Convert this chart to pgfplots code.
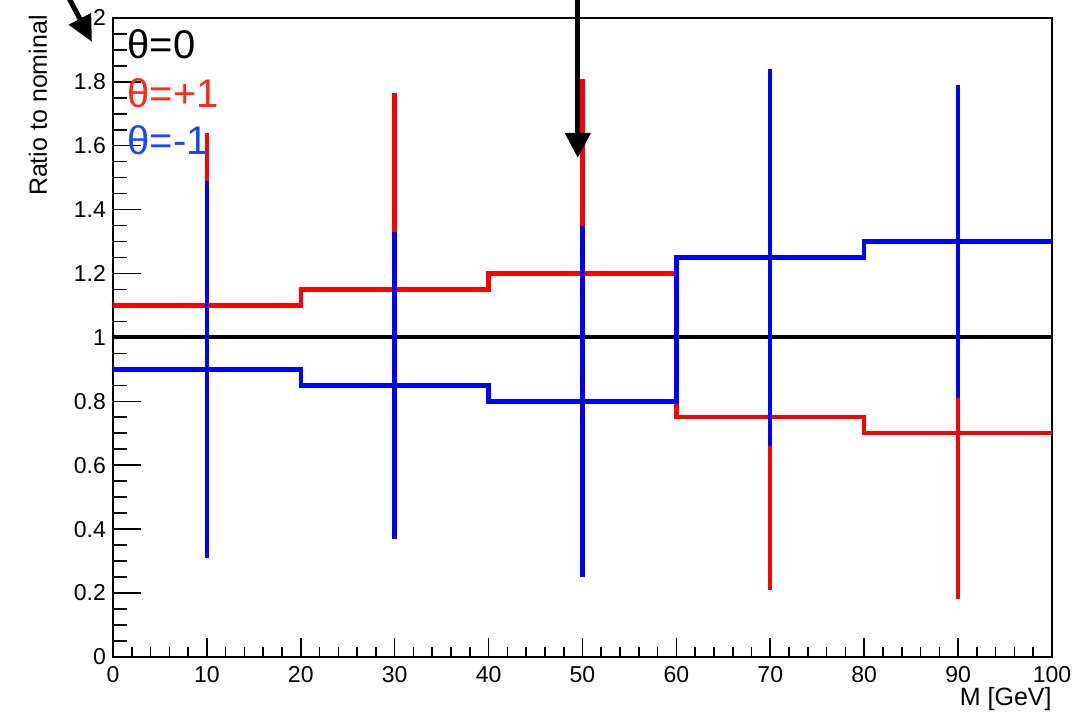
\documentclass[border=0pt]{standalone}
\usepackage{pgfplots}
\pgfplotsset{compat=1.18}
\usepackage{fontspec}
\setmainfont{Liberation Sans}
\usetikzlibrary{arrows.meta}

\definecolor{rootred}{RGB}{255,0,0}
\definecolor{rootblue}{RGB}{0,0,255}
\definecolor{labelred}{RGB}{255,40,20}
\definecolor{labelblue}{RGB}{25,70,255}

\begin{document}
\begin{tikzpicture}
\begin{axis}[
  scale only axis,
  width=469.5pt, height=319.5pt,
  xmin=0, xmax=100, ymin=0, ymax=2,
  xtick={0,10,20,30,40,50,60,70,80,90,100},
  ytick={0,0.2,0.4,0.6,0.8,1,1.2,1.4,1.6,1.8,2},
  minor x tick num=4, minor y tick num=3,
  tick align=inside, tick pos=left,
  axis line style={line width=0.85pt},
  every tick/.style={black, line width=0.8pt},
  major tick length=14pt, minor tick length=7pt,
  xtick style={/pgfplots/major tick length=9.5pt, /pgfplots/minor tick length=4.75pt},
  tick label style={font=\fontsize{11.5}{13}\selectfont},
  xticklabel style={yshift=-1pt},
  /pgf/number format/assume math mode=true,
  xlabel={M [GeV]}, ylabel={Ratio to nominal},
  label style={font=\fontsize{12.5}{14}\selectfont},
  xlabel style={at={(rel axis cs:1,0)}, anchor=base east, inner sep=0pt, yshift=-24.5pt},
  ylabel style={at={(rel axis cs:0,1)}, anchor=base east, inner sep=0pt, xshift=1.5pt, yshift=33pt},
  clip=false,
]
% nominal (theta = 0)
\addplot[black, line width=2pt, const plot] coordinates {(0,1) (20,1) (40,1) (60,1) (80,1) (100,1)};

% theta = +1
\addplot[rootred, line width=2.2pt, const plot] coordinates {(0,1.10) (20,1.15) (40,1.20) (60,0.75) (80,0.70) (100,0.70)};
\addplot[draw=none, mark=none,
  error bars/.cd, y dir=both, y explicit, error mark=none,
  error bar style={draw=rootred, line width=2.2pt}]
  coordinates {(10,1.10) +- (0,0.54) (30,1.15) +- (0,0.615) (50,1.20) +- (0,0.61) (70,0.75) +- (0,0.54) (90,0.70) +- (0,0.52)};

% theta = -1
\addplot[rootblue, line width=2.2pt, const plot] coordinates {(0,0.90) (20,0.85) (40,0.80) (60,1.25) (80,1.30) (100,1.30)};
\addplot[draw=none, mark=none,
  error bars/.cd, y dir=both, y explicit, error mark=none,
  error bar style={draw=rootblue, line width=2.2pt}]
  coordinates {(10,0.90) +- (0,0.59) (30,0.85) +- (0,0.48) (50,0.80) +- (0,0.55) (70,1.25) +- (0,0.59) (90,1.30) +- (0,0.49)};

% legend entries
\node[anchor=base west, inner sep=0pt, font=\fontsize{20}{24}\selectfont, black] at (axis cs:1.5,1.872) {θ=0};
\node[anchor=base west, inner sep=0pt, font=\fontsize{20}{24}\selectfont, labelred] at (axis cs:1.5,1.718) {θ=+1};
\node[anchor=base west, inner sep=0pt, font=\fontsize{20}{24}\selectfont, labelblue] at (axis cs:1.5,1.574) {θ=-1};

% arrows
\draw[black, line width=2.5pt, -{Triangle[width=12.5pt,length=12.5pt]}] (axis cs:49.5,2.3) -- (axis cs:49.5,1.562);
\draw[black, line width=2.5pt, -{Triangle[width=12pt,length=13pt]}] (axis cs:-6.93,2.188) -- (axis cs:-2.24,1.925);

\coordinate (bbsw) at (axis cs:-12.03,-0.178);
\coordinate (bbne) at (axis cs:102.77,2.056);
\end{axis}
\pgfresetboundingbox
\path[use as bounding box] (bbsw) rectangle (bbne);
\end{tikzpicture}
\end{document}
